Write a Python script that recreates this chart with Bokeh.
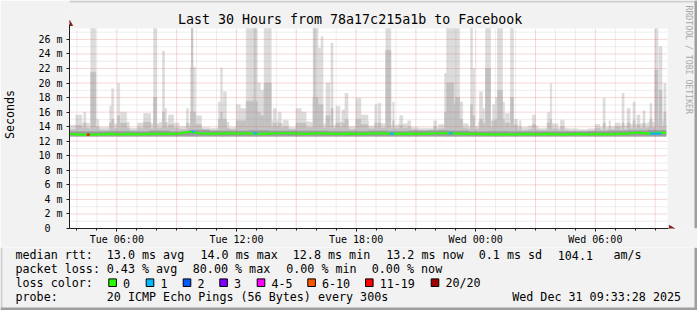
import numpy as np
import pandas as pd
from bokeh.plotting import figure
from bokeh.layouts import column
from bokeh.models import Range1d, FixedTicker, DatetimeTickFormatter, CustomJSTickFormatter
from bokeh.core.properties import value
from bokeh.embed import file_html
from bokeh.resources import INLINE

# ---------------- data ----------------
title_text = "Last 30 Hours from 78a17c215a1b to Facebook"
start = "2025-12-30 03:37:30"
span_hours = 30
data_end_min = 1795          # minutes after start where data stops

# light smoke (max ping) per 30-minute bin, ms
base_top_ms = [14.2, 14.5, 14.0, 13.9, 14.4, 14.6, 13.8, 14.5, 14.4, 14.6,
               14.5, 14.0, 14.4, 13.9, 13.8, 14.6, 13.9, 14.8, 14.6, 14.4,
               14.8, 14.4, 13.9, 14.7, 14.6, 14.4, 14.2, 14.7, 14.0, 14.7,
               14.1, 14.4, 14.2, 14.4, 13.9, 13.8, 13.8, 14.3, 14.7, 14.4,
               14.0, 14.6, 14.8, 14.4, 14.3, 13.9, 14.1, 13.8, 14.4, 13.8,
               13.7, 13.6, 13.7, 13.9, 14.0, 14.1, 14.3, 14.4, 14.6, 14.8]
# denser smoke per 30-minute bin, ms
base_mid_ms = [13.6, 13.8, 13.6, 13.5, 13.7, 13.8, 13.5, 13.8, 13.7, 13.8,
               13.8, 13.6, 13.9, 13.6, 13.5, 13.8, 13.6, 14.0, 13.9, 13.8,
               14.0, 13.8, 13.6, 13.9, 13.9, 13.8, 13.7, 13.9, 13.6, 13.9,
               13.7, 13.8, 13.7, 13.8, 13.6, 13.5, 13.5, 13.7, 13.9, 13.8,
               13.6, 13.8, 13.9, 13.7, 13.7, 13.5, 13.6, 13.5, 13.7, 13.5,
               13.4, 13.4, 13.4, 13.5, 13.6, 13.6, 13.7, 13.8, 13.9, 14.0]
# densest smoke per hour, ms
core_top_ms = [13.3, 13.3, 13.35, 13.3, 13.4, 13.3, 13.5, 13.4, 13.4, 13.45,
               13.4, 13.4, 13.4, 13.35, 13.35, 13.4, 13.35, 13.4, 13.45, 13.4,
               13.3, 13.35, 13.3, 13.3, 13.3, 13.3, 13.35, 13.4, 13.45, 13.5]
smoke_low_ms = 12.65

# smoke spikes (minutes after start)
spike_start_min = [19, 43, 64, 82, 121, 127, 145, 154, 205, 223,
                   253, 280, 286, 298, 352, 364, 367, 382, 448, 455,
                   463, 502, 514, 532, 556, 565, 574, 586, 613, 628,
                   643, 682, 697, 733, 736, 748, 757, 772, 787, 802,
                   820, 829, 862, 877, 919, 928, 952, 973, 994, 1018,
                   1096, 1129, 1135, 1156, 1162, 1168, 1207, 1213, 1234, 1243,
                   1252, 1273, 1282, 1288, 1303, 1312, 1327, 1339, 1354, 1393,
                   1438, 1447, 1477, 1582, 1606, 1624, 1642, 1663, 1678, 1696,
                   1708, 1726, 1747, 1762, 1774, 1789]
spike_end_min = [37, 49, 79, 88, 130, 133, 151, 172, 211, 244,
                 262, 286, 292, 313, 358, 379, 371, 397, 463, 460,
                 472, 514, 532, 565, 559, 574, 586, 607, 622, 637,
                 658, 697, 712, 748, 739, 757, 763, 784, 793, 814,
                 835, 838, 877, 898, 925, 937, 967, 977, 1003, 1027,
                 1105, 1144, 1156, 1162, 1174, 1183, 1213, 1219, 1243, 1249,
                 1267, 1282, 1288, 1303, 1309, 1324, 1336, 1348, 1359, 1402,
                 1447, 1451, 1489, 1597, 1612, 1628, 1657, 1669, 1687, 1702,
                 1717, 1732, 1753, 1771, 1783, 1795]
spike_max_ms = [15.6, 16.0, 28.0, 15.0, 16.8, 19.2, 19.9, 16.0, 14.5, 15.8,
                28.0, 24.4, 16.5, 15.6, 16.5, 22.2, 28.0, 15.5, 17.4, 22.1,
                18.8, 17.0, 16.5, 28.0, 28.0, 20.0, 19.0, 28.0, 16.5, 16.0,
                14.9, 16.5, 16.0, 28.0, 28.0, 24.8, 26.4, 20.0, 25.5, 16.8,
                16.3, 18.6, 17.9, 15.6, 17.0, 17.2, 28.0, 17.4, 15.5, 14.8,
                14.8, 21.3, 28.0, 28.0, 28.0, 17.4, 28.0, 22.0, 18.8, 16.5,
                28.0, 17.0, 18.0, 28.0, 17.4, 15.8, 28.0, 15.0, 14.8, 15.6,
                15.9, 19.9, 14.9, 14.3, 17.9, 14.8, 14.5, 18.6, 16.5, 17.4,
                15.6, 16.2, 17.2, 28.0, 25.0, 19.9]
spike_mid_ms = [14.2, 14.5, 21.5, 14.0, 14.5, 15.0, 15.5, 14.5, 13.9, 14.6,
                18.0, 16.0, 14.5, 14.3, 14.5, 16.0, 28.0, 14.3, 15.0, 16.0,
                15.0, 14.8, 14.8, 17.5, 28.0, 16.0, 15.5, 20.0, 14.5, 14.5,
                14.0, 14.5, 14.5, 18.0, 28.0, 17.0, 17.0, 15.5, 16.5, 14.5,
                14.5, 15.0, 15.0, 14.3, 14.5, 14.5, 24.5, 14.8, 14.2, 14.0,
                14.0, 16.0, 20.0, 17.0, 18.0, 15.0, 17.0, 15.5, 15.0, 14.5,
                22.0, 14.8, 15.0, 19.0, 15.0, 14.5, 18.0, 14.2, 14.0, 14.3,
                14.5, 15.0, 14.0, 13.8, 14.5, 14.0, 14.0, 14.5, 14.5, 14.8,
                14.3, 14.5, 15.0, 21.8, 19.0, 16.0]

# median rtt per 30-minute bin, ms
median_ms = [13.0, 12.9, 12.9, 12.95, 13.0, 12.95, 13.0, 12.95, 13.0, 13.0,
             13.0, 13.05, 13.3, 13.1, 13.0, 13.05, 13.1, 13.05, 13.1, 13.0,
             13.05, 13.1, 13.1, 13.05, 13.0, 13.1, 13.05, 13.0, 13.05, 13.0,
             13.05, 13.1, 13.05, 13.0, 13.05, 13.0, 13.05, 13.1, 13.1, 13.05,
             13.0, 13.0, 12.95, 12.95, 12.95, 12.95, 13.0, 12.95, 13.0, 12.95,
             12.95, 13.0, 12.95, 13.0, 12.95, 13.0, 13.05, 13.2, 13.05, 13.15]

# packet-loss episodes
loss_start_min = [52, 367, 553, 964, 1141, 1748]
loss_end_min = [61, 376, 565, 976, 1153, 1780]
loss_class = ["11-19", "1", "1", "1", "1", "1"]

loss_labels = ["0", "1", "2", "3", "4-5", "6-10", "11-19", "20/20"]
loss_colors = ["#26ff00", "#00b8ff", "#0059ff", "#7e00ff", "#ff00ff", "#ff5500", "#ff0000", "#a10000"]

x_label_times = ["2025-12-30 06:00", "2025-12-30 12:00", "2025-12-30 18:00",
                 "2025-12-31 00:00", "2025-12-31 06:00"]
y_ticks = list(range(0, 27, 2))

stats_rtt = ["median rtt:", "13.0 ms avg", "14.0 ms max", "12.8 ms min",
             "13.2 ms now", "0.1 ms sd", "104.1", "am/s"]
stats_loss = ["packet loss:", "0.43 % avg", "80.00 % max", "0.00 % min", "0.00 % now"]
probe_line = ["probe:", "20 ICMP Echo Pings (56 Bytes) every 300s", "Wed Dec 31 09:33:28 2025"]
watermark = "RRDTOOL / TOBI OETIKER"

# ---------------- layout / style ----------------
W, H = 697, 310
H1 = 247                      # height of the graph figure, legend below
FL, FR, FT, FB = 67, 667, 28, 228
YMAX = 27.5
MONO = "DejaVu Sans Mono"
BACK, CANVAS = "#f2f2f2", "#ffffff"
SHADEA, SHADEB = "#cfcfcf", "#9e9e9e"
AXIS, ARROWC = "#1f1f1f", "#801f1f"
LIGHT, MID, CORE = "#dcdcdc", "#c2c2c2", "#9a9a9a"
MGRID, GRID = "#e06060", "#9a9a9a"

rtt_x = [16, 107.3, 201, 293.3, 386.7, 479.3, 558.3, 614]
loss_x = [16, 107.3, 193.3, 286.7, 372.3]
probe_x = [16, 107.3, 512.7]
swatch_x = [108.3, 145.7, 182.7, 219.3, 256.7, 307.3, 365.0, 430.7]

t0 = pd.Timestamp(start)
t0ms = t0.value / 1e6
span_ms = span_hours * 3600 * 1000.0


def T(minutes):
    return (t0 + pd.to_timedelta(np.asarray(minutes, dtype=float), unit="m")).values


def X(px):
    return t0ms + (px - FL) / (FR - FL) * span_ms


def Y(py):
    return (FB - py) / (FB - FT) * YMAX


def ms(ts):
    return pd.Timestamp(ts).value / 1e6


# ================= graph figure =================
p = figure(width=W, height=H1, x_axis_type="datetime",
           x_range=Range1d(X(FL), X(W)), y_range=Range1d(0, Y(0)),
           output_backend="svg", toolbar_location=None,
           min_border_left=FL, min_border_right=0, min_border_top=0,
           min_border_bottom=H1 - FB)
p.frame_align = False
p.background_fill_color = BACK
p.border_fill_color = BACK
p.outline_line_color = None
p.xgrid.visible = False
p.ygrid.visible = False

x_end = t0ms + span_ms
# frame shading (top / right)
p.quad(left=[X(0)], right=[X(W)], bottom=[Y(2)], top=[Y(0)], fill_color=SHADEA, line_color=None)
p.quad(left=[X(W - 3)], right=[X(W)], bottom=[0], top=[Y(0)], fill_color=SHADEB, line_color=None)
# white canvas
p.quad(left=[t0ms], right=[x_end], bottom=[0], top=[YMAX], fill_color=CANVAS, line_color=None)

# smoke: light
nb = len(base_top_ms)
bin_l = np.arange(nb) * 30
bin_r = np.minimum(bin_l + 30, data_end_min)
p.quad(left=T(bin_l), right=T(bin_r), bottom=smoke_low_ms, top=base_top_ms,
       fill_color=LIGHT, line_color=LIGHT, line_width=0.6)
p.quad(left=T(spike_start_min), right=T(spike_end_min), bottom=smoke_low_ms,
       top=np.minimum(spike_max_ms, YMAX), fill_color=LIGHT, line_color=LIGHT, line_width=0.6)
# smoke: mid
p.quad(left=T(bin_l), right=T(bin_r), bottom=smoke_low_ms, top=base_mid_ms,
       fill_color=MID, line_color=MID, line_width=0.6)
p.quad(left=T(spike_start_min), right=T(spike_end_min), bottom=smoke_low_ms,
       top=np.minimum(spike_mid_ms, YMAX), fill_color=MID, line_color=MID, line_width=0.6)
# smoke: core
nh = len(core_top_ms)
h_l = np.arange(nh) * 60
h_r = np.minimum(h_l + 60, data_end_min)
p.quad(left=T(h_l), right=T(h_r), bottom=smoke_low_ms + 0.1, top=core_top_ms,
       fill_color=CORE, line_color=CORE, line_width=0.6)

# median line (green = no loss)
mx = list(bin_l) + [data_end_min]
my = list(median_ms) + [median_ms[-1]]
p.line(T(mx), my, line_color=loss_colors[0], line_width=2.2)

# loss episodes coloured by loss class
seg_y = [median_ms[min(int(s // 30), nb - 1)] for s in loss_start_min]
seg_c = [loss_colors[loss_labels.index(c)] for c in loss_class]
p.segment(x0=T(loss_start_min), y0=seg_y, x1=T(loss_end_min), y1=seg_y,
          line_color=seg_c, line_width=2.2)

# dotted grid drawn over the graph (rrdtool style)
hours = pd.date_range("2025-12-30 04:00", "2025-12-31 09:00", freq="h")
minor_h = [ms(h) for h in hours if h.hour % 3 != 0]
major_h = [ms(h) for h in hours if h.hour % 3 == 0]
minor_v = [v for v in range(1, 28) if v % 2 == 1]
major_v = [v for v in range(2, 27, 2)]
p.segment(x0=minor_h, x1=minor_h, y0=0, y1=YMAX, line_color=GRID, line_alpha=0.35,
          line_width=1, line_dash="1 1")
p.segment(x0=t0ms, x1=x_end, y0=minor_v, y1=minor_v, line_color=GRID, line_alpha=0.35,
          line_width=1, line_dash="1 1")
p.segment(x0=major_h, x1=major_h, y0=0, y1=YMAX, line_color=MGRID, line_alpha=0.5,
          line_width=1, line_dash="1 1")
p.segment(x0=t0ms, x1=x_end, y0=major_v, y1=major_v, line_color=MGRID, line_alpha=0.5,
          line_width=1, line_dash="1 1")

# axis arrow heads
p.triangle(x=[t0ms], y=[Y(23.3)], size=6, fill_color=ARROWC, line_color=ARROWC)
p.triangle(x=[X(670.5)], y=[0], size=6, angle=-np.pi / 2, fill_color=ARROWC, line_color=ARROWC)

# title and watermark
p.text(x=[X(348.5)], y=[Y(19)], text=[title_text], text_font=value(MONO),
       text_font_size=value("13.3px"), text_align="center", text_baseline="middle",
       text_color="#000000")
p.text(x=[X(688)], y=[Y(5)], text=[watermark], text_font=value(MONO),
       text_font_size=value("8.2px"), text_align="left", text_baseline="middle",
       text_color="#a8a8a8", angle=-np.pi / 2)

# axes
p.xaxis.ticker = FixedTicker(ticks=[ms(t) for t in x_label_times], minor_ticks=[ms(h) for h in hours])
fmt = "%a %H:%M"
p.xaxis.formatter = DatetimeTickFormatter(microseconds=fmt, milliseconds=fmt, seconds=fmt, minsec=fmt,
                                          minutes=fmt, hourmin=fmt, hours=fmt, days=fmt,
                                          months=fmt, years=fmt)
p.xaxis.bounds = (t0ms, X(668))
p.yaxis.ticker = FixedTicker(ticks=y_ticks)
p.yaxis.formatter = CustomJSTickFormatter(code="return tick == 0 ? '0\\u00a0\\u00a0' : tick + ' m';")
p.yaxis.bounds = (0, Y(24))
for ax in (p.xaxis, p.yaxis):
    ax.axis_line_color = AXIS
    ax.major_tick_line_color = AXIS
    ax.minor_tick_line_color = AXIS
    ax.major_tick_in = 0
    ax.minor_tick_in = 0
    ax.major_label_text_font = MONO
    ax.major_label_text_font_size = "10px"
    ax.major_label_text_color = "#000000"
p.xaxis.major_tick_out = 3
p.xaxis.minor_tick_out = 2
p.xaxis.major_label_standoff = 2
p.yaxis.major_tick_out = 3
p.yaxis.minor_tick_out = 0
p.yaxis.major_label_standoff = 4
p.yaxis.axis_label = "Seconds"
p.yaxis.axis_label_text_font = MONO
p.yaxis.axis_label_text_font_size = "11.7px"
p.yaxis.axis_label_text_font_style = "normal"
p.yaxis.axis_label_text_color = "#000000"
p.yaxis.axis_label_standoff = 18

# ================= legend figure =================
q = figure(width=W, height=H - H1, x_range=Range1d(0, W), y_range=Range1d(H, H1),
           output_backend="svg", toolbar_location=None,
           x_axis_location=None, y_axis_location=None,
           min_border_left=0, min_border_right=0, min_border_top=0, min_border_bottom=0)
q.frame_align = False
q.background_fill_color = BACK
q.border_fill_color = BACK
q.outline_line_color = None
q.grid.visible = False

q.quad(left=[0], right=[2], bottom=[H], top=[H1], fill_color=SHADEA, line_color=None)
q.quad(left=[W - 3], right=[W], bottom=[H], top=[H1], fill_color=SHADEB, line_color=None)
q.quad(left=[0], right=[W], bottom=[H], top=[H - 3], fill_color=SHADEB, line_color=None)


def rows(xs, texts, y):
    q.text(x=[x - 1 for x in xs], y=[y] * len(texts), text=texts, text_font=value(MONO),
           text_font_size=value("11.7px"), text_align="left", text_baseline="middle",
           text_color="#000000")


rows(rtt_x, stats_rtt, 254.5)
rows(loss_x, stats_loss, 268.5)
rows([16], ["loss color:"], 282.5)
q.quad(left=swatch_x, right=[s + 7.6 for s in swatch_x], top=[278.4] * 8, bottom=[286] * 8,
       fill_color=loss_colors, line_color="#000000", line_width=1)
rows([s + 15.2 for s in swatch_x], loss_labels, 282.5)
rows(probe_x, probe_line, 296.3)

layout = column(p, q, spacing=0)
open("out.html", "w").write(file_html(layout, INLINE))
